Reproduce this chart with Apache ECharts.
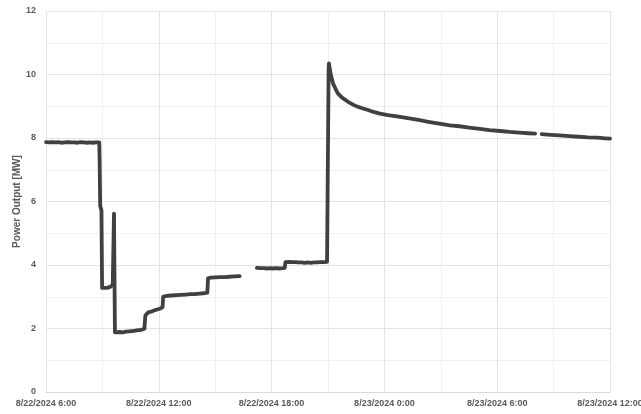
<!DOCTYPE html>
<html>
<head>
<meta charset="utf-8">
<script src="https://cdn.jsdelivr.net/npm/echarts@6/dist/echarts.min.js"></script>
<style>
  html, body { margin: 0; padding: 0; background: #ffffff; }
  #chart { width: 641px; height: 414px; }
</style>
</head>
<body>
<div id="chart"></div>
<script>
// Plant output log, three recorded stretches separated by logging gaps.
const morningTimes = [
  '2024-08-22 06:00','2024-08-22 06:10','2024-08-22 06:20','2024-08-22 06:30','2024-08-22 06:40',
  '2024-08-22 06:50','2024-08-22 07:00','2024-08-22 07:10','2024-08-22 07:20','2024-08-22 07:30',
  '2024-08-22 07:40','2024-08-22 07:50','2024-08-22 08:00','2024-08-22 08:10','2024-08-22 08:20',
  '2024-08-22 08:30','2024-08-22 08:40','2024-08-22 08:50','2024-08-22 08:51','2024-08-22 08:53',
  '2024-08-22 08:57','2024-08-22 08:59','2024-08-22 09:05','2024-08-22 09:15','2024-08-22 09:25',
  '2024-08-22 09:33','2024-08-22 09:36','2024-08-22 09:37','2024-08-22 09:40','2024-08-22 09:45',
  '2024-08-22 09:55','2024-08-22 10:05','2024-08-22 10:15','2024-08-22 10:25','2024-08-22 10:35',
  '2024-08-22 10:45','2024-08-22 10:55','2024-08-22 11:05','2024-08-22 11:14','2024-08-22 11:17',
  '2024-08-22 11:25','2024-08-22 11:35','2024-08-22 11:45','2024-08-22 11:55','2024-08-22 12:05',
  '2024-08-22 12:12','2024-08-22 12:14','2024-08-22 12:25','2024-08-22 12:40','2024-08-22 12:55',
  '2024-08-22 13:10','2024-08-22 13:25','2024-08-22 13:40','2024-08-22 13:55','2024-08-22 14:10',
  '2024-08-22 14:25','2024-08-22 14:35','2024-08-22 14:37','2024-08-22 14:45','2024-08-22 15:00',
  '2024-08-22 15:15','2024-08-22 15:30','2024-08-22 15:45','2024-08-22 16:00','2024-08-22 16:18'
];
const morningPower = [
  7.87, 7.86, 7.87, 7.86, 7.87,
  7.85, 7.86, 7.87, 7.86, 7.86,
  7.85, 7.87, 7.86, 7.85, 7.86,
  7.85, 7.86, 7.86, 7.40, 5.85,
  5.72, 3.28, 3.27, 3.28, 3.31,
  3.38, 3.40, 5.62, 1.88, 1.87,
  1.89, 1.88, 1.90, 1.91, 1.92,
  1.93, 1.95, 1.96, 1.99, 2.40,
  2.50, 2.53, 2.57, 2.60, 2.63,
  2.67, 3.00, 3.03, 3.04, 3.05,
  3.06, 3.07, 3.08, 3.08, 3.10,
  3.11, 3.13, 3.58, 3.60, 3.61,
  3.62, 3.62, 3.63, 3.64, 3.65
];

const eveningTimes = [
  '2024-08-22 17:13','2024-08-22 17:25','2024-08-22 17:35','2024-08-22 17:45','2024-08-22 17:55',
  '2024-08-22 18:05','2024-08-22 18:15','2024-08-22 18:25','2024-08-22 18:35','2024-08-22 18:42',
  '2024-08-22 18:44','2024-08-22 18:55','2024-08-22 19:05','2024-08-22 19:15','2024-08-22 19:25',
  '2024-08-22 19:35','2024-08-22 19:45','2024-08-22 19:55','2024-08-22 20:05','2024-08-22 20:15',
  '2024-08-22 20:25','2024-08-22 20:35','2024-08-22 20:45','2024-08-22 20:57','2024-08-22 21:02',
  '2024-08-22 21:03','2024-08-22 21:06','2024-08-22 21:10','2024-08-22 21:16','2024-08-22 21:24',
  '2024-08-22 21:32','2024-08-22 21:45','2024-08-22 22:04','2024-08-22 22:20','2024-08-22 22:36',
  '2024-08-22 22:52','2024-08-22 23:08','2024-08-22 23:25','2024-08-22 23:46','2024-08-23 00:11',
  '2024-08-23 00:40','2024-08-23 01:10','2024-08-23 01:53','2024-08-23 02:20','2024-08-23 02:50',
  '2024-08-23 03:29','2024-08-23 04:00','2024-08-23 04:30','2024-08-23 05:05','2024-08-23 05:35',
  '2024-08-23 06:09','2024-08-23 06:40','2024-08-23 07:10','2024-08-23 07:40','2024-08-23 08:01'
];
const eveningPower = [
  3.91, 3.90, 3.90, 3.89, 3.90,
  3.89, 3.90, 3.89, 3.90, 3.91,
  4.09, 4.10, 4.09, 4.09, 4.08,
  4.08, 4.07, 4.08, 4.07, 4.08,
  4.08, 4.09, 4.09, 4.10, 10.20,
  10.35, 10.15, 9.95, 9.72, 9.55,
  9.40, 9.27, 9.14, 9.05, 8.98,
  8.93, 8.88, 8.82, 8.77, 8.72,
  8.68, 8.63, 8.56, 8.51, 8.46,
  8.40, 8.37, 8.33, 8.29, 8.25,
  8.22, 8.19, 8.17, 8.15, 8.14
];

const lateTimes = [
  '2024-08-23 08:22','2024-08-23 08:50','2024-08-23 09:20','2024-08-23 09:50','2024-08-23 10:20',
  '2024-08-23 10:50','2024-08-23 11:20','2024-08-23 11:45','2024-08-23 12:00'
];
const latePower = [8.12, 8.10, 8.08, 8.06, 8.04, 8.02, 8.01, 7.99, 7.98];

// Axis range in hours counted from 8/22/2024 0:00
const xStartHour = 6;
const xEndHour = 36;
const xTickHours = 6;
const yMax = 12;
const yTick = 2;
const yTitle = 'Power Output [MW]';

function toHours(stamp) {
  const [datePart, timePart] = stamp.split(' ');
  const day = parseInt(datePart.split('-')[2], 10);
  const [hh, mm] = timePart.split(':').map(Number);
  return (day - 22) * 24 + hh + mm / 60;
}

function pairs(times, values) {
  return times.map((t, i) => [toHours(t), values[i]]);
}

// Segments joined with a break marker so the logging gaps stay open
const lineData = [].concat(
  pairs(morningTimes, morningPower), [[16.6, '-']],
  pairs(eveningTimes, eveningPower), [[26.2, '-']],
  pairs(lateTimes, latePower)
);

function hourLabel(h) {
  const day = 22 + Math.floor(h / 24);
  const hh = Math.round(h % 24);
  return '8/' + day + '/2024 ' + hh + ':00';
}

const font = "'Liberation Sans', Arial, sans-serif";
const textGray = '#595959';

const chart = echarts.init(document.getElementById('chart'), null, { renderer: 'canvas' });
chart.setOption({
  animation: false,
  backgroundColor: '#ffffff',
  grid: {
    left: 46, right: 31, top: 11, bottom: 22,
    containLabel: false,
    outerBoundsMode: 'none'
  },
  xAxis: {
    type: 'value',
    min: xStartHour,
    max: xEndHour,
    interval: xTickHours,
    axisLine: { show: true, lineStyle: { color: '#d9d9d9', width: 1 } },
    axisTick: { show: false },
    axisLabel: {
      formatter: hourLabel,
      color: textGray,
      fontFamily: font,
      fontWeight: 'bold',
      fontSize: 9,
      margin: 7,
      showMaxLabel: true,
      showMinLabel: true
    },
    splitLine: { show: true, lineStyle: { color: '#e3e3e3', width: 1 } },
    minorTick: { show: false, splitNumber: 2 },
    minorSplitLine: { show: true, lineStyle: { color: '#f0f0f0', width: 1 } }
  },
  yAxis: {
    type: 'value',
    min: 0,
    max: yMax,
    interval: yTick,
    name: yTitle,
    nameLocation: 'middle',
    nameGap: 24,
    nameMoveOverlap: false,
    nameRotate: 90,
    nameTextStyle: {
      color: textGray,
      fontFamily: font,
      fontWeight: 'bold',
      fontSize: 10
    },
    axisLine: { show: false },
    axisTick: { show: false },
    axisLabel: {
      color: textGray,
      fontFamily: font,
      fontWeight: 'bold',
      fontSize: 9,
      margin: 10
    },
    splitLine: { show: true, lineStyle: { color: '#e3e3e3', width: 1 } },
    minorTick: { show: false, splitNumber: 2 },
    minorSplitLine: { show: true, lineStyle: { color: '#f0f0f0', width: 1 } }
  },
  series: [{
    type: 'line',
    data: lineData,
    showSymbol: false,
    symbol: 'none',
    connectNulls: false,
    lineStyle: { color: '#404040', width: 3.8, join: 'round', cap: 'round' }
  }]
});
</script>
</body>
</html>
